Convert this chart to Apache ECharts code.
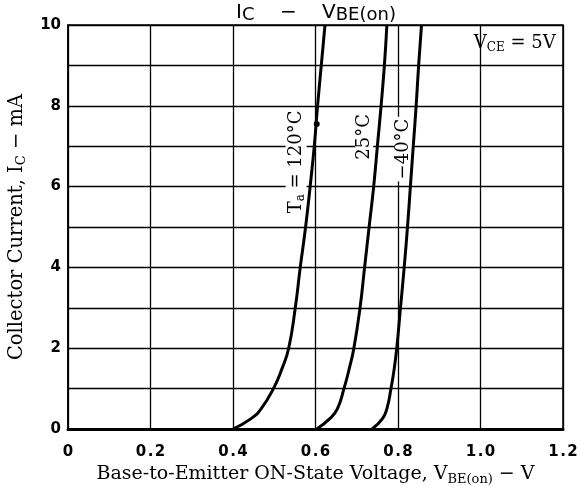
<!DOCTYPE html>
<html><head><meta charset="utf-8">
<script src="https://cdn.jsdelivr.net/npm/echarts@6/dist/echarts.min.js"></script>
<style>html,body{margin:0;padding:0;background:#fff}#c{width:580px;height:486px}</style>
</head><body><div id="c"></div>
<script>
// Collector current (mA), shared by all curves
const currentI = [0, 0.25, 0.5, 1, 1.5, 2, 3, 4, 5, 6, 7, 8, 9, 10];
// Base-emitter voltage (V) for each temperature
const vbe120 = [0.400, 0.443, 0.468, 0.498, 0.519, 0.535, 0.551, 0.563, 0.576, 0.587, 0.597, 0.605, 0.614, 0.623];
const vbe25 = [0.603, 0.634, 0.653, 0.669, 0.682, 0.693, 0.708, 0.719, 0.730, 0.741, 0.750, 0.759, 0.767, 0.773];
const vbeMinus40 = [0.737, 0.762, 0.773, 0.783, 0.791, 0.797, 0.806, 0.815, 0.823, 0.830, 0.837, 0.844, 0.850, 0.857];
const xTickLabels = ['0', '0.2', '0.4', '0.6', '0.8', '1.0', '1.2'];
const yTickLabels = ['0', '2', '4', '6', '8', '10'];

const serif = 'DejaVu Serif';
const sans = 'DejaVu Sans';
function pairs(v) { return v.map((x, i) => [x, currentI[i]]); }
function richSerif(size) {
  return {
    m: { fontFamily: serif, fontSize: size, color: '#000' },
    s: { fontFamily: serif, fontSize: Math.round(size * 0.68), color: '#000', verticalAlign: 'bottom', padding: [Math.round(size * 0.5), 0, 0, 0] }
  };
}
function lbl(coord, text) {
  return { coord: coord, symbol: 'circle', symbolSize: 0,
    label: { show: true, position: 'inside', rotate: 90, formatter: text, rich: richSerif(18),
      backgroundColor: '#fff', padding: [0, 2, 0, 2] } };
}
function curve(name, v, marks) {
  return { name: name, type: 'line', data: pairs(v), smooth: 0.5, showSymbol: false,
    lineStyle: { color: '#000', width: 3 }, itemStyle: { color: '#000' },
    markPoint: { data: marks, silent: true }, z: 5 };
}
function spaced(s) { return s.split('').join('\u200a'); }
const chart = echarts.init(document.getElementById('c'));
chart.setOption({
  animation: false,
  backgroundColor: '#fff',
  title: {
    text: '{m|I}{s|C}{m|    −    V}{s|BE(on)}', left: 231, top: -4,
    textStyle: { rich: {
      m: { fontFamily: sans, fontWeight: 'normal', fontSize: 20, color: '#000' },
      s: { fontFamily: sans, fontWeight: 'normal', fontSize: 18, color: '#000', verticalAlign: 'bottom', padding: [5, 0, 0, 0] }
    } }
  },
  grid: { left: 68, right: 17, top: 25, bottom: 57, outerBoundsMode: 'none', containLabel: false,
    show: true, borderColor: '#000', borderWidth: 1.5, backgroundColor: 'transparent' },
  xAxis: {
    type: 'value', min: 0, max: 1.2, interval: 0.2,
    name: '{m|Base-to-Emitter ON-State Voltage, V}{s|BE(on)}{m| − V}',
    nameLocation: 'middle', nameGap: 25,
    nameTextStyle: { rich: richSerif(19) },
    axisLine: { show: true, lineStyle: { color: '#000', width: 3 } },
    axisTick: { show: false },
    axisLabel: { margin: 16, color: '#000', fontFamily: sans, fontWeight: 'bold', fontSize: 15,
      formatter: v => spaced(xTickLabels[Math.round(v / 0.2)]) },
    splitLine: { show: true, lineStyle: { color: '#000', width: 1.3 } }
  },
  yAxis: {
    type: 'value', min: 0, max: 10, interval: 1,
    name: '{m|Collector Current, I}{s|C}{m| − mA}',
    nameLocation: 'middle', nameGap: 40,
    nameTextStyle: { rich: richSerif(19.5) },
    axisLine: { show: true, lineStyle: { color: '#000', width: 1.5 } },
    axisTick: { show: false },
    axisLabel: { margin: 7, color: '#000', fontFamily: sans, fontWeight: 'bold', fontSize: 15,
      formatter: v => (v % 2 === 0 ? yTickLabels[v / 2] : '') },
    splitLine: { show: true, lineStyle: { color: '#000', width: 1.3 } }
  },
  series: [
    curve('120°C', vbe120, [lbl([0.553, 6.61], '{m|T}{s|a}{m| = 120°C}'),
      { coord: [0.603, 7.55], symbol: 'circle', symbolSize: 6, itemStyle: { color: '#000' }, label: { show: false } }]),
    curve('25°C', vbe25, [lbl([0.718, 7.23], '{m|25°C}')]),
    curve('-40°C', vbeMinus40, [lbl([0.813, 6.93], '{m|−40°C}'),
      { coord: [1.083, 9.55], symbol: 'circle', symbolSize: 0,
        label: { show: true, position: 'inside', formatter: '{m|V}{s|CE}{m| = 5V}', rich: richSerif(18) } }])
  ]
});
</script></body></html>
